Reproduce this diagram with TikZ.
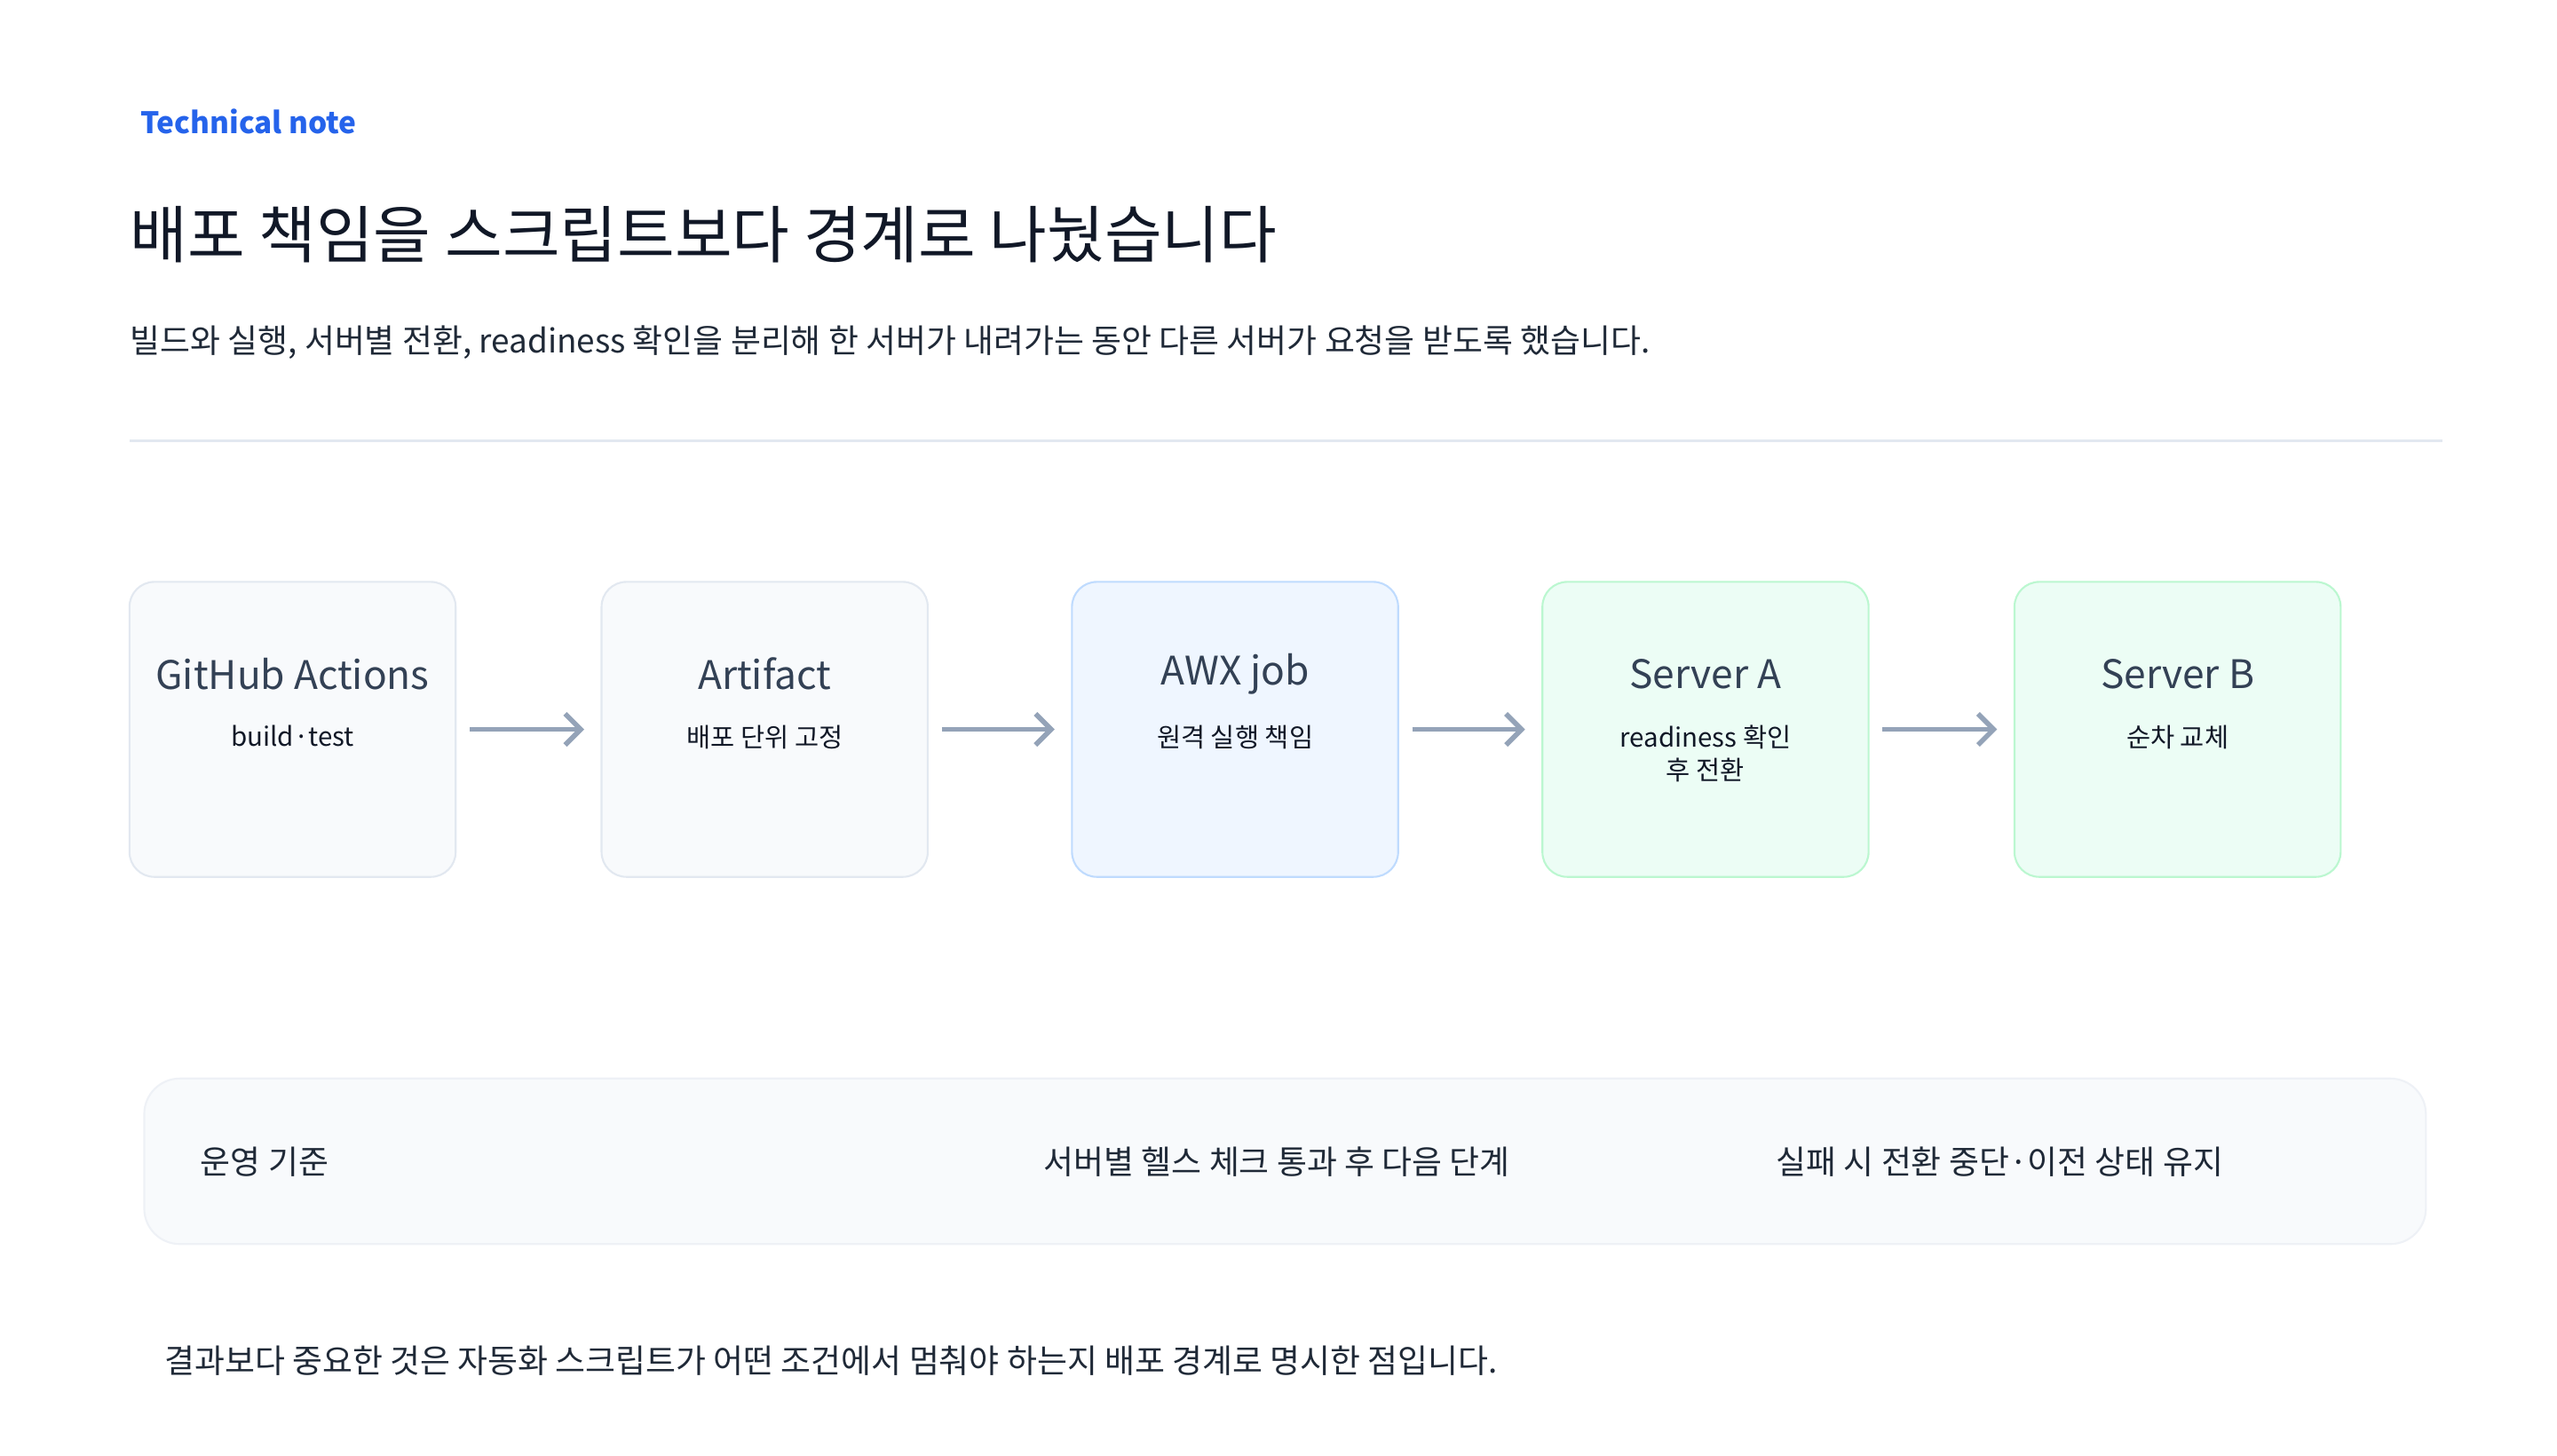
\documentclass[tikz,border=0pt]{standalone}
\usepackage{fontspec}
\setmainfont{Noto Sans CJK KR}
\begin{document}
\definecolor{blue}{HTML}{2563EB}
\definecolor{ink}{HTML}{111827}
\definecolor{sub}{HTML}{1F2937}
\definecolor{slate}{HTML}{334155}
\definecolor{gfill}{HTML}{F8FAFC}
\definecolor{gline}{HTML}{E2E8F0}
\definecolor{bfill}{HTML}{EFF6FF}
\definecolor{bline}{HTML}{BFDBFE}
\definecolor{nfill}{HTML}{ECFDF5}
\definecolor{nline}{HTML}{BBF7D0}
\definecolor{arr}{HTML}{94A3B8}
\begin{tikzpicture}[x=0.01846cm,y=-0.01846cm,
  box/.style={rounded corners=0.28cm,line width=0.6pt,minimum width=199*0.01846cm,minimum height=180*0.01846cm,inner sep=0pt},
  gbox/.style={box,fill=gfill,draw=gline},
  bbox/.style={box,fill=bfill,draw=bline},
  nbox/.style={box,fill=nfill,draw=nline},
  ttl/.style={font=\fontsize{12.6}{15}\selectfont,text=slate},
  st/.style={font=\fontsize{8.4}{10.5}\selectfont,text=ink,align=center},
  ar/.style={draw=arr,line width=1.6pt,-{Straight Barb[length=5pt,width=10pt]}},
  body/.style={font=\fontsize{10.5}{13}\selectfont,text=sub}]
\usetikzlibrary{arrows.meta}
\useasboundingbox (0,0) rectangle (1560,888);
\node[anchor=west,font=\bfseries\fontsize{9.5}{11}\selectfont,text=blue] (tn) at (79,74) {Technical note};
\node[anchor=west,font=\fontsize{20}{24}\selectfont,text=ink,inner sep=0pt] (title) at (79,143) {배포 책임을 스크립트보다 경계로 나눴습니다};
\node[anchor=west,body,inner sep=0pt] (subt) at (79,209) {빌드와 실행, 서버별 전환, readiness 확인을 분리해 한 서버가 내려가는 동안 다른 서버가 요청을 받도록 했습니다.};
\draw[gline,line width=0.8pt] (79,269) -- (1490,269);

\node[gbox] (b1) at (178.5,445) {};
\node[gbox] (b2) at (466.5,445) {};
\node[bbox] (b3) at (753.5,445) {};
\node[nbox] (b4) at (1040.5,445) {};
\node[nbox] (b5) at (1328.5,445) {};
\foreach \n/\x/\t/\s in {b1/178.5/GitHub Actions/build·test, b2/466.5/Artifact/배포 단위 고정, b3/753.5/AWX job/원격 실행 책임, b4/1040.5/Server A/{readiness 확인\\후 전환}, b5/1328.5/Server B/순차 교체}{
  \node[ttl] (\n t) at (\x,411) {\t};
  \node[st,anchor=north] (\n s) at (\x,436) {\s};
}
\draw[ar] (b1.east)++(8,0) -- ([xshift=-10*0.01846cm]b2.west);
\draw[ar] (b2.east)++(8,0) -- ([xshift=-10*0.01846cm]b3.west);
\draw[ar] (b3.east)++(8,0) -- ([xshift=-10*0.01846cm]b4.west);
\draw[ar] (b4.east)++(8,0) -- ([xshift=-10*0.01846cm]b5.west);

\node[fill=gfill,draw=gline!60,line width=0.6pt,rounded corners=0.4cm,minimum width=1392*0.01846cm,minimum height=101*0.01846cm] (panel) at (784,708.5) {};
\node[anchor=west,body,inner sep=0pt] (p1) at (122,709) {운영 기준};
\node[body] (p2) at (779,709) {서버별 헬스 체크 통과 후 다음 단계};
\node[body] (p3) at (1220,709) {실패 시 전환 중단·이전 상태 유지};
\node[anchor=west,body,inner sep=0pt] (foot) at (100,830) {결과보다 중요한 것은 자동화 스크립트가 어떤 조건에서 멈춰야 하는지 배포 경계로 명시한 점입니다.};
\end{tikzpicture}
\end{document}
